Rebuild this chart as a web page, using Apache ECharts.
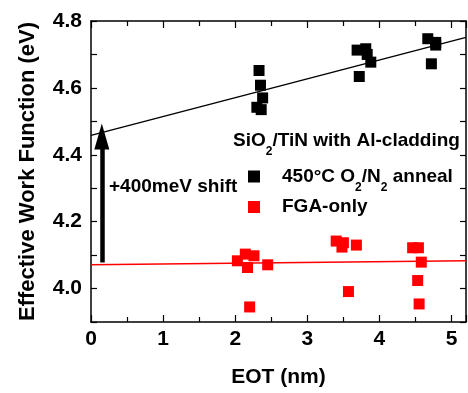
<!DOCTYPE html>
<html>
<head>
<meta charset="utf-8">
<script src="https://cdn.jsdelivr.net/npm/echarts@6/dist/echarts.min.js"></script>
<style>
  html, body { margin: 0; padding: 0; background: #fff; }
  #chart { width: 468px; height: 393px; }
</style>
</head>
<body>
<div id="chart"></div>
<script>
// EOT (nm) vs effective work function (eV)
const annealPoints = [
  [2.33, 4.652], [2.35, 4.608], [2.38, 4.570], [2.30, 4.542], [2.36, 4.535],
  [3.69, 4.713], [3.81, 4.717], [3.83, 4.700], [3.88, 4.677], [3.72, 4.634],
  [4.67, 4.747], [4.78, 4.736], [4.78, 4.728], [4.72, 4.672]
]
const fgaPoints = [
  [2.03, 4.083], [2.14, 4.103], [2.26, 4.098], [2.17, 4.063], [2.45, 4.071], [2.20, 3.945],
  [3.40, 4.142], [3.50, 4.137], [3.48, 4.124], [3.68, 4.130], [3.57, 3.991],
  [4.46, 4.122], [4.54, 4.122], [4.58, 4.079], [4.53, 4.024], [4.55, 3.954]
]
// linear fits, end points
const annealFit = [[0, 4.458], [5.2, 4.751]]
const fgaFit = [[0, 4.071], [5.2, 4.083]]
// shift arrow (x, from, to)
const shiftArrow = [[0.15, 4.078], [0.15, 4.455]]

const font = 'Liberation Sans, Arial, sans-serif'
const chart = echarts.init(document.getElementById('chart'))

const axisLine = { show: true, onZero: false, lineStyle: { color: '#000', width: 1.5 } }
const tickStyle = { color: '#000', width: 1.2 }
const subRich = {
  a: { fontFamily: font, fontWeight: 'bold', fontSize: 19, color: '#000', lineHeight: 22 },
  s: { fontFamily: font, fontWeight: 'bold', fontSize: 12, color: '#000', lineHeight: 22,
    verticalAlign: 'bottom', padding: [0, 0, -6, 0] }
}

chart.setOption({
  animation: false,
  backgroundColor: '#fff',
  grid: { left: 91, right: 2, top: 21, bottom: 68, containLabel: false },
  xAxis: [
    {
      type: 'value', min: 0, max: 5.2, interval: 1,
      name: 'EOT (nm)', nameLocation: 'middle', nameGap: 45,
      nameTextStyle: { fontFamily: font, fontWeight: 'bold', fontSize: 21, color: '#000' },
      axisLine,
      axisTick: { inside: true, length: 7, lineStyle: tickStyle },
      minorTick: { show: true, splitNumber: 2, length: 5, lineStyle: tickStyle },
      axisLabel: { fontFamily: font, fontWeight: 'bold', fontSize: 21, color: '#000', margin: 7,
        showMaxLabel: false },
      splitLine: { show: false }
    },
    {
      type: 'value', position: 'top', min: 0, max: 5.2, interval: 1,
      axisLine,
      axisTick: { inside: true, length: 7, lineStyle: tickStyle },
      minorTick: { show: true, splitNumber: 2, length: 5, lineStyle: tickStyle },
      axisLabel: { show: false },
      splitLine: { show: false }
    }
  ],
  yAxis: [
    {
      type: 'value', min: 3.9, max: 4.8, interval: 0.1,
      name: 'Effective Work Function (eV)', nameLocation: 'middle', nameGap: 52,
      nameTextStyle: { fontFamily: font, fontWeight: 'bold', fontSize: 22, color: '#000' },
      axisLine,
      axisTick: { inside: true, length: 6, lineStyle: tickStyle },
      axisLabel: {
        fontFamily: font, fontWeight: 'bold', fontSize: 21, color: '#000', margin: 9,
        formatter: v => (Math.round(v * 10) % 2 === 0 ? v.toFixed(1) : '')
      },
      splitLine: { show: false }
    },
    {
      type: 'value', position: 'right', min: 3.9, max: 4.8, interval: 0.1,
      axisLine,
      axisTick: { inside: true, length: 6, lineStyle: tickStyle },
      axisLabel: { show: false },
      splitLine: { show: false }
    }
  ],
  legend: {
    orient: 'vertical', left: 243, top: 162, itemGap: 4,
    itemWidth: 12, itemHeight: 12, icon: 'rect',
    data: ['anneal', 'fga'],
    formatter: name => name === 'anneal'
      ? '{a|450°C O}{s|2}{a|/N}{s|2}{a| anneal}'
      : '{a|FGA-only}',
    textStyle: {
      fontFamily: font, fontWeight: 'bold', fontSize: 19, color: '#000',
      rich: subRich,
      padding: [0, 0, 0, 17]
    }
  },
  graphic: [
    {
      type: 'text', left: 233, top: 131,
      style: {
        text: '{a|SiO}{s|2}{a|/TiN with Al-cladding}',
        rich: {
          a: { ...subRich.a, fill: '#000' },
          s: { ...subRich.s, fill: '#000' }
        }
      }
    },
    {
      type: 'text', left: 109, top: 177,
      style: { text: '+400meV shift', fontFamily: font, fontWeight: 'bold', fontSize: 19, fill: '#000' }
    }
  ],
  series: [
    {
      name: 'anneal', type: 'scatter', data: annealPoints,
      symbol: 'rect', symbolSize: 11, itemStyle: { color: '#000', opacity: 1 }
    },
    {
      name: 'fga', type: 'scatter', data: fgaPoints,
      symbol: 'rect', symbolSize: 11, itemStyle: { color: '#ff0000', opacity: 1 }
    },
    {
      name: 'annealFit', type: 'line', data: annealFit, symbol: 'none',
      lineStyle: { color: '#000', width: 1.5 }
    },
    {
      name: 'fgaFit', type: 'line', data: fgaFit, symbol: 'none',
      lineStyle: { color: '#ff0000', width: 1.5 },
      markLine: {
        silent: true, symbol: ['none', 'triangle'], symbolSize: [15, 26],
        label: { show: false },
        lineStyle: { color: '#000', width: 4.5, type: 'solid' },
        data: [[{ coord: shiftArrow[0] }, { coord: shiftArrow[1] }]]
      }
    }
  ]
})
</script>
</body>
</html>
